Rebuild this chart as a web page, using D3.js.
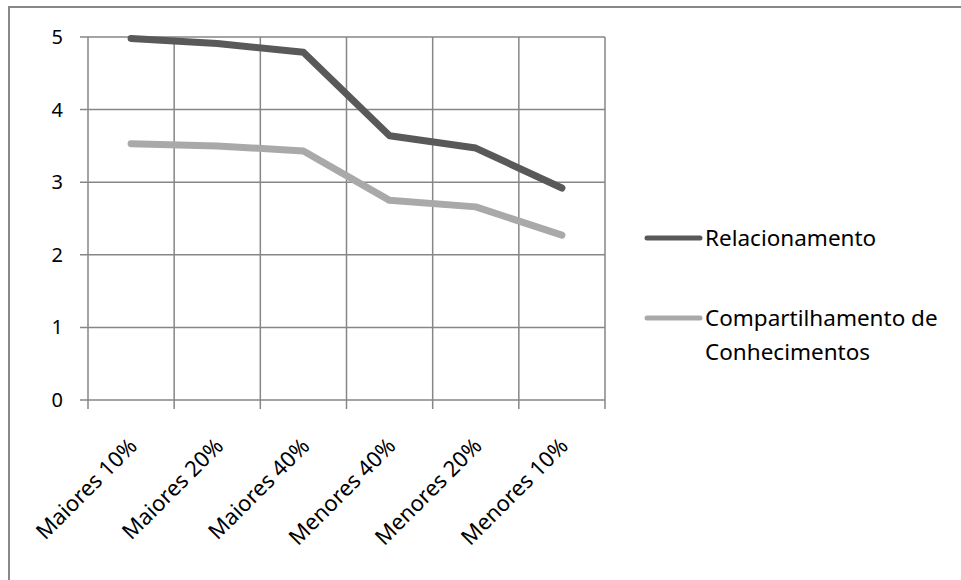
<!DOCTYPE html>
<html><head><meta charset="utf-8">
<script src="https://cdn.jsdelivr.net/npm/d3@7"></script>
<style>body{margin:0;background:#fff}svg{display:block}</style>
</head><body>
<script>
const categories = ["Maiores 10%","Maiores 20%","Maiores 40%","Menores 40%","Menores 20%","Menores 10%"];
const relacionamento = [4.98, 4.91, 4.79, 3.64, 3.47, 2.92];
const compartilhamento = [3.53, 3.50, 3.43, 2.75, 2.66, 2.27];
const yTicks = [0,1,2,3,4,5];
const seriesNames = ["Relacionamento", ["Compartilhamento de","Conhecimentos"]];

const W = 961, H = 580;
const font = "'Noto Sans', sans-serif";
const svg = d3.select("body").append("svg").attr("width", W).attr("height", H);

svg.append("path").attr("d", `M9,${H} L9,7 L${W},7`).attr("fill","none").attr("stroke","#888").attr("stroke-width",2);

const x = d3.scaleBand().domain(categories).range([88, 605]);
const y = d3.scaleLinear().domain([0,5]).range([400, 37]);

const g = svg.append("g");
g.selectAll(".hg").data(yTicks).join("line")
  .attr("x1", 80).attr("x2", 605).attr("y1", d=>y(d)).attr("y2", d=>y(d))
  .attr("stroke","#868686").attr("stroke-width",1.5);
const bounds = categories.map(c=>x(c)).concat([x.range()[1]]);
g.selectAll(".vg").data(bounds).join("line")
  .attr("x1", d=>d).attr("x2", d=>d).attr("y1", 37).attr("y2", 409)
  .attr("stroke","#868686").attr("stroke-width",1.5);

g.selectAll(".yl").data(yTicks).join("text")
  .attr("x", 63).attr("y", d=>y(d)).attr("dy","0.35em").attr("text-anchor","end")
  .attr("font-family",font).attr("font-size",20).attr("fill","#000").text(d=>d);

g.selectAll(".xl").data(categories).join("text")
  .attr("transform", d=>`translate(${x(d)+x.bandwidth()/2 + 2},${442}) rotate(-45)`)
  .attr("text-anchor","end").attr("dy","0.35em")
  .attr("font-family",font).attr("font-size",22).attr("fill","#000").text(d=>d);

const line = d3.line().x((d,i)=>x(categories[i])+x.bandwidth()/2).y(d=>y(d));
const colors = ["#595959","#a9a9a9"];
[relacionamento, compartilhamento].forEach((s,k)=>{
  g.append("path").attr("d", line(s)).attr("fill","none").attr("stroke",colors[k])
   .attr("stroke-width",7).attr("stroke-linecap","round").attr("stroke-linejoin","round");
});

const leg = [{y:238, c:colors[0], t:[seriesNames[0]]},{y:318, c:colors[1], t:seriesNames[1]}];
leg.forEach(l=>{
  svg.append("line").attr("x1",647).attr("x2",700).attr("y1",l.y).attr("y2",l.y)
    .attr("stroke",l.c).attr("stroke-width",5).attr("stroke-linecap","round");
  l.t.forEach((t,i)=>{
    svg.append("text").attr("x",705).attr("y",l.y+i*34).attr("dy","0.35em")
      .attr("font-family",font).attr("font-size",22.5).attr("fill","#000").text(t);
  });
});
</script>
</body></html>
